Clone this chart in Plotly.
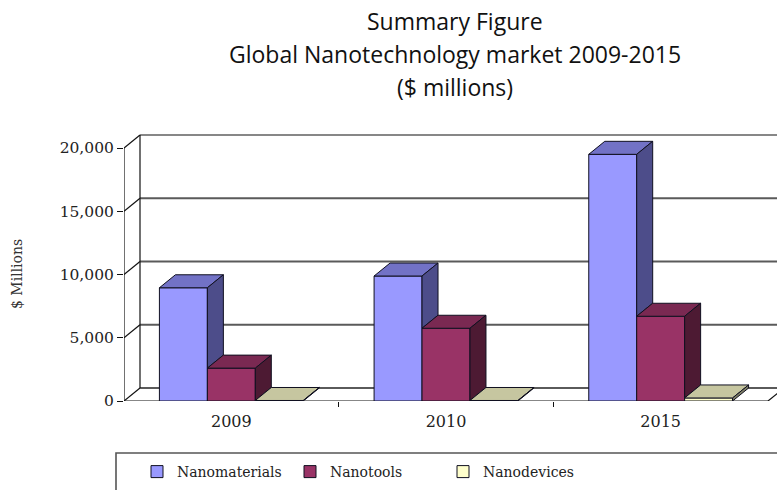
import plotly.graph_objects as go

# ---- data ($ millions) ----
years = ["2009", "2010", "2015"]
series_names = ["Nanomaterials", "Nanotools", "Nanodevices"]
nanomaterials = [8950, 9880, 19500]
nanotools = [2600, 5750, 6700]
nanodevices = [40, 40, 240]
y_ticks = [0, 5000, 10000, 15000, 20000]

series_values = [nanomaterials, nanotools, nanodevices]

# ---- styling ----
front_colors = ["#9999FF", "#993366", "#FFFFCC"]
top_colors = ["#7272C6", "#7A2952", "#C6C6A0"]
side_colors = ["#4D4D8A", "#4D1A33", "#7F7F66"]
edge = "#101020"
serif = "DejaVu Serif"
sans = "Open Sans"

W, H = 777, 490
M_L, M_R, M_T, M_B = 124, 0, 130, 89
plot_w = W - M_L - M_R
plot_h = H - M_T - M_B

px_per_cat = 644 / 3          # front-plane width of one category
px_per_unit_y = 253 / 20000   # front-plane height of 20,000
x_lo = -0.5
x_hi = x_lo + plot_w / px_per_cat
y_hi = plot_h / px_per_unit_y

# depth offset of the pseudo-3D box (right and up)
DX = 16 / px_per_cat
DY = 13 / px_per_unit_y

bargap = 0.33
bar_w = (1 - bargap) / len(series_names)
n_cat = len(years)
xs = list(range(n_cat))

fig = go.Figure()

# front faces
for name, vals, col in zip(series_names, series_values, front_colors):
    fig.add_trace(go.Bar(
        x=xs, y=vals, name=name,
        marker=dict(color=col, line=dict(color=edge, width=1)),
        hoverinfo="skip",
    ))

# top and side faces, built from the same values
for si, (vals, tcol, scol) in enumerate(zip(series_values, top_colors, side_colors)):
    nxt = series_values[si + 1] if si + 1 < len(series_values) else [0] * n_cat
    tx, ty, sx, sy = [], [], [], []
    for j in range(n_cat):
        left = xs[j] - (1 - bargap) / 2 + si * bar_w
        right = left + bar_w
        v = vals[j]
        tx += [left, right, right + DX, left + DX, left, None]
        ty += [v, v, v + DY, v + DY, v, None]
        vn = nxt[j]
        if v > vn:
            sx += [right, right, right + DX, right + DX, right, None]
            sy += [vn, v, v + DY, vn + DY, vn, None]
    fig.add_trace(go.Scatter(
        x=tx, y=ty, mode="lines", fill="toself", fillcolor=tcol,
        line=dict(color=edge, width=1), showlegend=False, hoverinfo="skip",
    ))
    if sx:
        fig.add_trace(go.Scatter(
            x=sx, y=sy, mode="lines", fill="toself", fillcolor=scol,
            line=dict(color=edge, width=1), showlegend=False, hoverinfo="skip",
        ))

# back wall, floor and gridlines
shapes = []
grid = dict(color="#5a5a5a", width=1.8)
dark = dict(color="#111111", width=1.2)
x_back = x_lo + DX
x_front_end = x_lo + n_cat
for t in y_ticks:
    ln = dark if t == y_ticks[-1] else grid
    # diagonal on the side wall
    shapes.append(dict(type="line", xref="x", yref="y", x0=x_lo, y0=t,
                       x1=x_back, y1=t + DY, line=dark, layer="below"))
    # line across the back wall
    shapes.append(dict(type="line", xref="x", yref="y", x0=x_back, y0=t + DY,
                       x1=x_hi + 1, y1=t + DY, line=ln, layer="below"))
# back wall left edge and front value axis
shapes.append(dict(type="line", xref="x", yref="y", x0=x_back, y0=DY,
                   x1=x_back, y1=y_ticks[-1] + DY, line=dark, layer="below"))
shapes.append(dict(type="line", xref="x", yref="y", x0=x_lo, y0=0,
                   x1=x_lo, y1=y_ticks[-1], line=dark, layer="below"))
# floor front edge and right edge
shapes.append(dict(type="line", xref="x", yref="y", x0=x_lo, y0=0,
                   x1=x_front_end, y1=0, line=dark, layer="below"))
shapes.append(dict(type="line", xref="x", yref="y", x0=x_front_end, y0=0,
                   x1=x_front_end + DX, y1=DY, line=dark, layer="below"))


def px_x(p):
    return (p - M_L) / plot_w


def px_y(p):
    return (H - M_B - p) / plot_h


# legend frame
shapes.append(dict(type="rect", xref="paper", yref="paper",
                   x0=px_x(116), x1=px_x(800), y0=px_y(520), y1=px_y(453),
                   line=dict(color="#555555", width=1.6), fillcolor="white",
                   layer="below"))

annotations = []
for text, py in [("Summary Figure", 21),
                 ("Global Nanotechnology market 2009-2015", 54),
                 ("($ millions)", 87)]:
    annotations.append(dict(text=text, xref="paper", yref="paper",
                            x=px_x(455), y=px_y(py), xanchor="center",
                            yanchor="middle", showarrow=False,
                            font=dict(family=sans, size=23, color="#111111")))
annotations.append(dict(text="$ Millions", xref="paper", yref="paper",
                        x=px_x(17), y=px_y(274), textangle=-90,
                        xanchor="center", yanchor="middle", showarrow=False,
                        font=dict(family=serif, size=14, color="#333333")))

fig.update_layout(
    width=W, height=H,
    margin=dict(l=M_L, r=M_R, t=M_T, b=M_B, autoexpand=False),
    paper_bgcolor="white", plot_bgcolor="white",
    barmode="group", bargap=bargap, bargroupgap=0,
    shapes=shapes, annotations=annotations,
    showlegend=True,
    legend=dict(orientation="h", x=px_x(137), y=px_y(472),
                xanchor="left", yanchor="middle",
                bgcolor="rgba(0,0,0,0)", borderwidth=0,
                font=dict(family=serif, size=14, color="#222222"),
                itemwidth=30, traceorder="normal",
                entrywidth=108, entrywidthmode="pixels"),
    hovermode=False,
)
fig.update_xaxes(
    range=[x_lo, x_hi], tickvals=xs, ticktext=years, ticks="",
    showgrid=False, zeroline=False, showline=False,
    ticklabelstandoff=9,
    minor=dict(tickvals=[0.5, 1.5], ticks="outside", ticklen=5,
               tickcolor="#111111", showgrid=False),
    tickfont=dict(family=serif, size=16, color="#222222"),
)
fig.update_yaxes(
    range=[0, y_hi], tickvals=y_ticks, tickformat=",", ticks="outside",
    ticklen=6, tickcolor="#111111", showgrid=False, zeroline=False,
    showline=False,
    tickfont=dict(family=serif, size=15.5, color="#222222"),
)

fig.write_html("out.html")
